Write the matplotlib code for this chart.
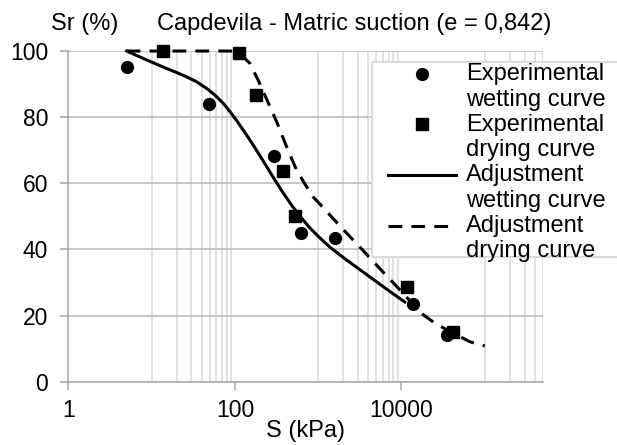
import matplotlib
matplotlib.use('Agg')
import matplotlib.pyplot as plt
from matplotlib.ticker import FixedLocator, NullFormatter
from matplotlib.patches import Rectangle
import numpy as np

plt.rcParams['font.family'] = ['Liberation Sans', 'DejaVu Sans']

# experimental points (S in kPa, Sr in %)
wet_s = [5.1, 49, 294, 620, 1600, 13700, 35000]
wet_sr = [95.1, 83.9, 68.3, 45.0, 43.4, 23.5, 14.0]
dry_s = [13.6, 113, 177, 373, 520, 11500, 42000]
dry_sr = [100, 99.3, 86.7, 63.7, 50.0, 28.6, 14.9]

# fitted curves
fit_wet_s = [5.02, 8.72, 15.2, 20.0, 26.3, 34.7, 45.8, 57.5, 72.4, 87.1, 104.8, 125.8, 151.4,
             190.4, 239.9, 302, 379.7, 478.9, 602.3, 794, 1047, 1380, 2090, 3162, 4786, 7244,
             10965]
fit_wet_sr = [100, 97.3, 94.7, 93.5, 92.2, 90.7, 88.7, 86.7, 84.2, 81.7, 79.0, 76.1, 73.1,
              69.2, 65.1, 61.0, 57.1, 53.4, 50.1, 46.5, 43.5, 40.7, 37.2, 33.9, 30.6, 27.3,
              24.1]
fit_dry_s = [5.02, 94.6, 118, 151, 190, 240, 316, 417, 550, 692, 869, 1202, 1675, 2400, 3630,
             5495, 8318, 11900, 17060, 25120, 40180, 66070, 100000]
fit_dry_sr = [100, 100, 98.9, 96.3, 91.2, 85.5, 78.7, 71.1, 64.0, 59.8, 55.9, 52.1, 48.1, 43.9,
              39.1, 34.2, 29.4, 25.2, 20.8, 17.7, 14.9, 12.1, 10.8]

x_major = [1, 100, 10000]
x_major_labels = ['1', '100', '10000']
x_minor = [10, 20, 30, 40, 50, 60, 70, 80, 90,
           1000, 2000, 3000, 4000, 5000, 6000, 7000, 8000, 9000,
           100000, 200000, 300000, 400000, 500000]
y_ticks = [0, 20, 40, 60, 80, 100]

fig = plt.figure(figsize=(6.17, 4.45), dpi=100)
ax = fig.add_axes([0.1107, 0.1422, 0.7694, 0.7431])

ax.set_xscale('log')
ax.set_xlim(1, 500000)
ax.set_ylim(0, 100)

ax.xaxis.set_major_locator(FixedLocator(x_major))
ax.set_xticklabels(x_major_labels)
ax.xaxis.set_minor_locator(FixedLocator(x_minor))
ax.xaxis.set_minor_formatter(NullFormatter())
ax.set_yticks(y_ticks)

ax.grid(True, which='minor', axis='x', color='#d9d9d9', lw=1.1)
ax.grid(True, which='major', axis='y', color='#b8b8b8', lw=1.1)
ax.set_axisbelow(True)

for s in ['top', 'right']:
    ax.spines[s].set_visible(False)
for s in ['left', 'bottom']:
    ax.spines[s].set_color('#a6a6a6')
    ax.spines[s].set_linewidth(1.1)

ax.tick_params(axis='both', which='major', direction='out', length=5.5, width=1.1,
               color='#a6a6a6', labelsize=16.5, labelcolor='black')
ax.tick_params(axis='x', which='major', pad=7)
ax.tick_params(axis='y', which='major', pad=9)
ax.tick_params(axis='x', which='minor', length=0)

ax.plot(wet_s, wet_sr, 'o', color='black', ms=8.5, clip_on=False, zorder=4,
        label='Experimental\nwetting curve')
ax.plot(dry_s, dry_sr, 's', color='black', ms=8, clip_on=False, zorder=4,
        label='Experimental\ndrying curve')
ax.plot(fit_wet_s, fit_wet_sr, '-', color='black', lw=2.2, clip_on=False, zorder=3,
        label='Adjustment\nwetting curve')
ax.plot(fit_dry_s, fit_dry_sr, color='black', lw=2.2, ls=(0, (4.5, 3)), clip_on=False,
        zorder=3, label='Adjustment\ndrying curve')

# legend box, reaching past the right edge like the original
box = Rectangle((371.7 / 617, 1 - 256.7 / 445), 0.42, 195 / 445, transform=fig.transFigure,
                facecolor='white', edgecolor='#d0d0d0', lw=1.1, clip_on=False, zorder=4.5)
ax.add_artist(box)

fs = 17
leg = ax.legend(loc='upper left', bbox_to_anchor=(388 / 617, 1 - 63 / 445),
                bbox_transform=fig.transFigure, borderaxespad=0, fontsize=fs,
                frameon=False, handlelength=2.9, handletextpad=0.4, borderpad=0,
                labelspacing=0.12)
for t in leg.get_texts():
    t.set_linespacing(1.22)
# put the handle next to the first line of each label
for h in leg.legend_handles:
    y = np.asarray(h.get_ydata(), dtype=float)
    h.set_ydata(y + 0.56 * fs)

fig.text(51 / 617, 1 - 24 / 445, 'Sr (%)', fontsize=17, ha='left', va='center')
fig.text(354 / 617, 1 - 24 / 445, 'Capdevila - Matric suction (e = 0,842)',
         fontsize=17, ha='center', va='center')
fig.text(305.7 / 617, 1 - 431 / 445, 'S (kPa)', fontsize=17, ha='center', va='center')

fig.savefig('out.png', dpi=100)
